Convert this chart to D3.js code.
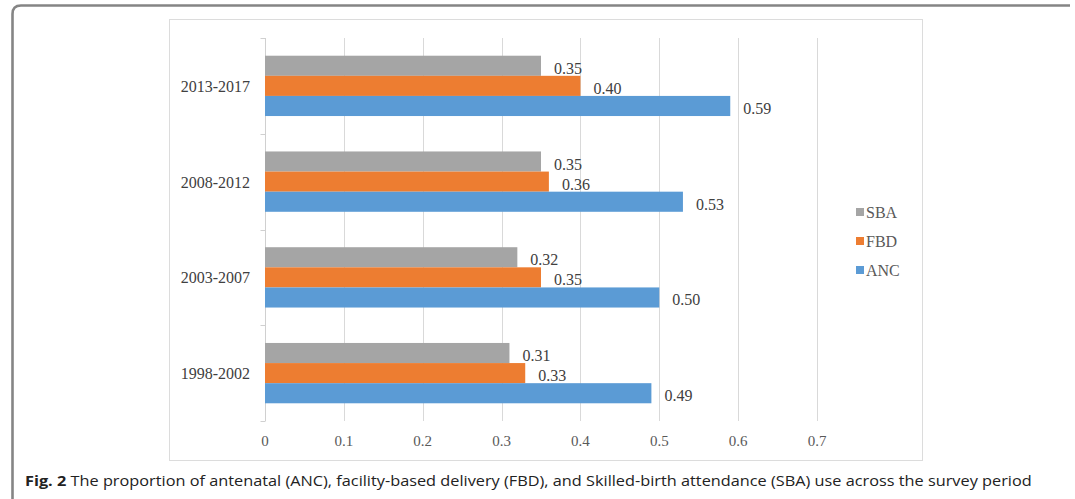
<!DOCTYPE html>
<html>
<head>
<meta charset="utf-8">
<script src="https://cdn.jsdelivr.net/npm/d3@7"></script>
<style>
  html, body { margin: 0; padding: 0; background: #fff; }
  svg { display: block; }
</style>
</head>
<body>
<svg id="chart" width="1075" height="499"></svg>
<script>
// Survey periods, top to bottom as drawn
const periods = ["2013-2017", "2008-2012", "2003-2007", "1998-2002"];
// Series in stacking order within each group (top to bottom)
const seriesNames = ["SBA", "FBD", "ANC"];
const sbaValues = [0.35, 0.35, 0.32, 0.31];
const fbdValues = [0.40, 0.36, 0.35, 0.33];
const ancValues = [0.59, 0.53, 0.50, 0.49];
const xTicks = [0, 0.1, 0.2, 0.3, 0.4, 0.5, 0.6, 0.7];
const captionBold = "Fig. 2";
const captionText = " The proportion of antenatal (ANC), facility-based delivery (FBD), and Skilled-birth attendance (SBA) use across the survey period";

const colors = { SBA: "#a5a5a5", FBD: "#ed7d31", ANC: "#5b9bd5" };
const valuesBySeries = { SBA: sbaValues, FBD: fbdValues, ANC: ancValues };

const svg = d3.select("#chart");
const serif = "'Liberation Serif', 'Times New Roman', serif";

// Outer figure frame: top and left edges with a rounded corner
svg.append("path")
  .attr("d", "M12.5,499 L12.5,14 Q12.5,5.5 21,5.5 L1070,5.5")
  .attr("fill", "none")
  .attr("stroke", "#858585")
  .attr("stroke-width", 2.6);

// Chart area border
svg.append("rect")
  .attr("x", 169.5).attr("y", 19.5)
  .attr("width", 753).attr("height", 441)
  .attr("fill", "none")
  .attr("stroke", "#dcdcdc")
  .attr("stroke-width", 1);

const x = d3.scaleLinear().domain([0, 0.7]).range([265, 817]);
const y = d3.scaleBand().domain(periods).range([38, 421])
  .paddingInner(0.37).paddingOuter(0.185);
const ySub = d3.scaleBand().domain(seriesNames).range([0, y.bandwidth()]);

// Vertical gridlines
svg.append("g").selectAll("line")
  .data(xTicks.filter(d => d > 0))
  .join("line")
  .attr("x1", d => Math.round(x(d)) + 0.5)
  .attr("x2", d => Math.round(x(d)) + 0.5)
  .attr("y1", 38).attr("y2", 421)
  .attr("stroke", "#d9d9d9").attr("stroke-width", 1);

// Category axis line with tick marks between groups
const axisX = Math.round(x(0)) + 0.5;
svg.append("line")
  .attr("x1", axisX).attr("x2", axisX)
  .attr("y1", 38).attr("y2", 421)
  .attr("stroke", "#d0d0d0");
const boundaries = [38].concat(periods.map(p => y(p) + y.bandwidth() + y.step() * 0.185));
svg.append("g").selectAll("line")
  .data(boundaries)
  .join("line")
  .attr("x1", axisX - 5).attr("x2", axisX)
  .attr("y1", d => Math.round(d) + 0.5).attr("y2", d => Math.round(d) + 0.5)
  .attr("stroke", "#d0d0d0");

// Bars
const rows = [];
periods.forEach((p, i) => {
  seriesNames.forEach(s => rows.push({ period: p, series: s, value: valuesBySeries[s][i] }));
});

const barG = svg.append("g");
barG.selectAll("rect")
  .data(rows)
  .join("rect")
  .attr("x", x(0))
  .attr("y", d => y(d.period) + ySub(d.series))
  .attr("width", d => x(d.value) - x(0))
  .attr("height", ySub.bandwidth())
  .attr("fill", d => colors[d.series]);

// Value labels
svg.append("g").selectAll("text")
  .data(rows)
  .join("text")
  .attr("x", d => x(d.value) + 13)
  .attr("y", d => y(d.period) + ySub(d.series) + ySub.bandwidth() / 2 + 8)
  .attr("font-family", serif)
  .attr("font-size", 16)
  .attr("fill", "#404040")
  .text(d => d.value.toFixed(2));

// Category labels
svg.append("g").selectAll("text")
  .data(periods)
  .join("text")
  .attr("x", 250)
  .attr("y", d => y(d) + y.bandwidth() / 2 + 6)
  .attr("text-anchor", "end")
  .attr("font-family", serif)
  .attr("font-size", 16)
  .attr("fill", "#404040")
  .text(d => d);

// Value axis tick labels
svg.append("g").selectAll("text")
  .data(xTicks)
  .join("text")
  .attr("x", d => x(d))
  .attr("y", 446)
  .attr("text-anchor", "middle")
  .attr("font-family", serif)
  .attr("font-size", 15)
  .attr("fill", "#595959")
  .text(d => d3.format("~g")(d));

// Legend
const legendY = { SBA: 212, FBD: 241, ANC: 270 };
const legend = svg.append("g").selectAll("g")
  .data(seriesNames)
  .join("g")
  .attr("transform", d => `translate(856, ${legendY[d]})`);
legend.append("rect")
  .attr("x", 0).attr("y", -4)
  .attr("width", 8).attr("height", 8)
  .attr("fill", d => colors[d]);
legend.append("text")
  .attr("x", 10).attr("y", 6)
  .attr("font-family", serif)
  .attr("font-size", 16)
  .attr("fill", "#595959")
  .text(d => d);

// Figure caption, fitted to the frame width
const cap = svg.append("text")
  .attr("x", 0).attr("y", 0)
  .attr("font-family", "'Open Sans', 'Noto Sans', sans-serif")
  .attr("font-size", 15)
  .attr("fill", "#222");
cap.append("tspan").attr("font-weight", "bold").text(captionBold);
cap.append("tspan").text(captionText);
const capW = cap.node().getComputedTextLength();
const targetW = 1032 - 25;
cap.attr("transform", `translate(25, 486) scale(${targetW / capW}, 1)`);
</script>
</body>
</html>
